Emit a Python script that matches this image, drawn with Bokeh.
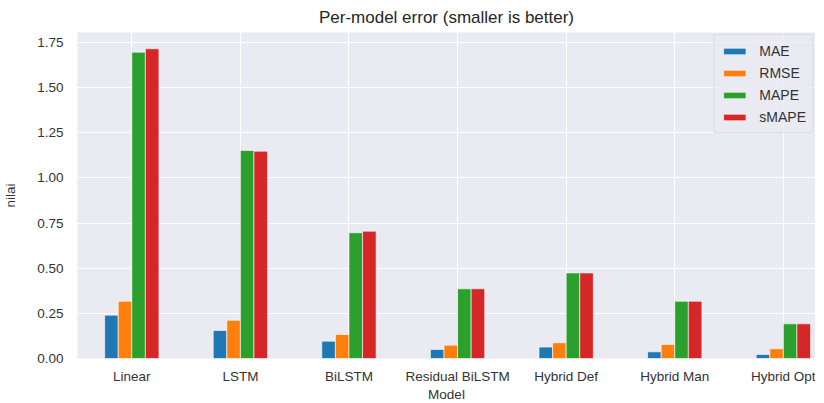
from bokeh.plotting import figure
from bokeh.models import ColumnDataSource, FixedTicker, NumeralTickFormatter, Range1d, Legend, LegendItem
from bokeh.transform import dodge
from bokeh.embed import file_html
from bokeh.resources import INLINE

models = ["Linear", "LSTM", "BiLSTM", "Residual BiLSTM", "Hybrid Def", "Hybrid Man", "Hybrid Opt"]
mae = [0.240, 0.155, 0.096, 0.050, 0.063, 0.037, 0.022]
rmse = [0.317, 0.212, 0.133, 0.074, 0.087, 0.078, 0.054]
mape = [1.696, 1.152, 0.696, 0.386, 0.474, 0.317, 0.192]
smape = [1.715, 1.148, 0.705, 0.386, 0.474, 0.317, 0.192]
series_names = ["MAE", "RMSE", "MAPE", "sMAPE"]
colors = ["#1f77b4", "#ff7f0e", "#2ca02c", "#d62728"]
y_ticks = [0.0, 0.25, 0.5, 0.75, 1.0, 1.25, 1.5, 1.75]

FONT = "Liberation Sans"
TXT = "#333333"

src = ColumnDataSource(dict(idx=list(range(len(models))), MAE=mae, RMSE=rmse, MAPE=mape, sMAPE=smape))

p = figure(frame_width=738, frame_height=326, min_border_left=0, min_border_right=0,
           min_border_top=0, min_border_bottom=0,
           x_range=Range1d(-0.5, 6.296), y_range=Range1d(0, 1.805),
           output_backend="svg", toolbar_location=None,
           title="Per-model error (smaller is better)")

p.background_fill_color = "#EAEAF2"
p.border_fill_color = "white"
p.outline_line_color = None

p.title.align = "center"
p.title.text_font = FONT
p.title.text_font_size = "17px"
p.title.text_font_style = "normal"
p.title.text_color = "#262626"
p.title.standoff = 11

bw = 0.125
offsets = [-1.5 * bw, -0.5 * bw, 0.5 * bw, 1.5 * bw]
items = []
for name, col, off in zip(series_names, colors, offsets):
    r = p.vbar(x=dodge("idx", off, range=p.x_range), top=name, width=bw, bottom=0,
               source=src, fill_color=col, line_color="white", line_width=0.6)
    items.append(LegendItem(label=name, renderers=[r]))

legend = Legend(items=items, location="top_right", margin=2,
                padding=6, spacing=3, label_height=19, glyph_height=8, glyph_width=28,
                label_standoff=11, label_text_font=FONT, label_text_font_size="14px",
                label_text_color=TXT, background_fill_color="#EAEAF2", background_fill_alpha=0.8,
                border_line_color="#d8d8dd", border_line_alpha=0.8)
p.add_layout(legend)

p.xaxis.ticker = FixedTicker(ticks=list(range(len(models))))
p.xaxis.major_label_overrides = {i: m for i, m in enumerate(models)}
p.yaxis.ticker = FixedTicker(ticks=y_ticks)
p.yaxis.formatter = NumeralTickFormatter(format="0.00")

p.xaxis.axis_label = "Model"
p.yaxis.axis_label = "nilai"
for ax in (p.xaxis, p.yaxis):
    ax.axis_line_color = None
    ax.major_tick_line_color = None
    ax.minor_tick_line_color = None
    ax.major_label_text_font = FONT
    ax.major_label_text_font_size = "13.5px"
    ax.major_label_text_color = TXT
    ax.axis_label_text_font = FONT
    ax.axis_label_text_font_size = "13.5px"
    ax.axis_label_text_font_style = "normal"
    ax.axis_label_text_color = TXT
p.xaxis.major_label_standoff = 4
p.xaxis.axis_label_standoff = 0
p.yaxis.major_label_standoff = 8
p.yaxis.axis_label_standoff = 16

p.xgrid.grid_line_color = "white"
p.ygrid.grid_line_color = "white"
p.xgrid.grid_line_width = 1
p.ygrid.grid_line_width = 1
p.xgrid.ticker = p.xaxis.ticker
p.ygrid.ticker = p.yaxis.ticker

open("out.html", "w").write(file_html(p, INLINE))
